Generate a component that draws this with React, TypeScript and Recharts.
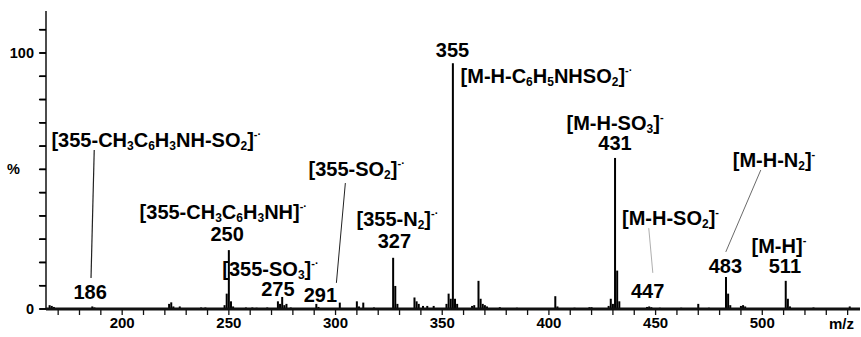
import { ComposedChart, Bar, XAxis, YAxis, Scatter, ReferenceLine } from "recharts"

document.body.style.margin = "0"

// peak list (m/z, relative intensity %)
const PEAK_MZ = [
  166, 167, 168, 186, 187, 222, 223, 224, 227, 237, 239, 248, 249, 250, 251, 252, 258, 261, 263, 268,
  273, 274, 275, 276, 277, 279, 291, 292, 302, 310, 311, 313, 318, 327, 328, 329, 337, 338, 339, 341,
  343, 346, 352, 353, 354, 355, 356, 357, 364, 365, 367, 368, 369, 370, 371, 377, 385, 403, 404, 412,
  419, 420, 428, 429, 430, 431, 432, 433, 446, 447, 448, 452, 462, 470, 475, 483, 484, 485, 490, 491,
  492, 511, 512, 513, 524, 541,
]
const PEAK_PCT = [
  1.5, 1.2, 0.8, 1.0, 0.6, 2.0, 2.6, 1.0, 1.0, 0.6, 0.6, 1.5, 6, 23, 3, 1.0, 0.6, 0.6, 0.5, 0.6,
  3, 2, 4.7, 1.5, 2, 0.6, 2, 0.8, 2.5, 3, 1, 2.5, 0.6, 20, 9, 2, 4.5, 3, 2, 1.2,
  1.2, 1.2, 2, 6, 4, 96, 4, 2, 1.2, 1.5, 11, 4, 2, 1.5, 1.0, 0.7, 0.5, 5, 1, 0.5,
  0.7, 0.7, 1.2, 4, 2, 59, 15, 3, 0.8, 1, 0.7, 0.5, 0.5, 2, 0.5, 12.5, 6, 1.5, 1.2, 1.5,
  1.0, 11, 4, 1.0, 0.6, 1.0,
]

// annotations: "_x" = subscript char, "^..." = superscript rest
const LABEL_TEXT = [
  "[355-CH_3C_6H_3NH-SO_2]^-·", "186",
  "[355-CH_3C_6H_3NH]^-·", "250",
  "[355-SO_3]^-·", "275",
  "[355-SO_2]^-·", "291",
  "[355-N_2]^-·", "327",
  "355", "[M-H-C_6H_5NHSO_2]^-·",
  "[M-H-SO_3]^-", "431",
  "[M-H-SO_2]^-", "447",
  "[M-H-N_2]^-", "483",
  "[M-H]^-", "511",
]
// where each annotation sits (m/z, %) and how it is anchored
const LABEL_MZ = [216, 185, 247.4, 249.2, 269.5, 273, 309.9, 292.9, 329, 327.6, 354.8, 358.6, 431, 431, 457, 446.3, 505.5, 482.7, 507.8, 510.6]
const LABEL_Y = [63.3, 3.9, 35.2, 26.4, 13, 4.9, 52, 2.9, 32.4, 24, 98.4, 88.3, 70, 62, 32.8, 4.3, 55.5, 14.1, 22, 14]
const LABEL_ANCHOR = LABEL_TEXT.map((t) => (t.startsWith("[M-H-C") ? "start" : "middle"))

// leader lines from the labels down to their peaks
const LEADERS = [
  { x1: 186.9, y1: 62.1, x2: 185.4, y2: 12.1, color: "#222", w: 1.2 },
  { x1: 304.6, y1: 49.2, x2: 300.4, y2: 10.2, color: "#222", w: 1 },
  { x1: 446.8, y1: 31.6, x2: 448.7, y2: 14.1, color: "#999", w: 0.8 },
  { x1: 499.3, y1: 54.3, x2: 482.9, y2: 22.3, color: "#444", w: 0.8 },
]

const X_DOMAIN: [number, number] = [164.3, 545.8]
const Y_MAX = 116.4
const X_TICKS = Array.from({ length: 38 }, (_, i) => 170 + i * 10)
const Y_TICKS = Array.from({ length: 13 }, (_, i) => (i * 100) / 11)
// y tick dash length, in m/z units (about 7px)
const Y_TICK_LEN = 3.3

const FONT = "'Liberation Sans', Arial, sans-serif"

const peaks = PEAK_MZ.map((mz, i) => ({ mz, pct: PEAK_PCT[i] }))
const labels = LABEL_TEXT.map((text, i) => ({ mz: LABEL_MZ[i], ly: LABEL_Y[i], text, anchor: LABEL_ANCHOR[i] }))

function parseFormula(s: string) {
  const parts: { t: string; kind: string }[] = []
  let buf = ""
  for (let i = 0; i < s.length; i++) {
    const c = s[i]
    if (c === "_") {
      if (buf) parts.push({ t: buf, kind: "norm" })
      buf = ""
      parts.push({ t: s[i + 1], kind: "sub" })
      i++
    } else if (c === "^") {
      if (buf) parts.push({ t: buf, kind: "norm" })
      buf = ""
      parts.push({ t: s.slice(i + 1), kind: "sup" })
      break
    } else {
      buf += c
    }
  }
  if (buf) parts.push({ t: buf, kind: "norm" })
  return parts
}

function Formula(props: any) {
  const { cx, cy, payload } = props
  const parts = parseFormula(payload.text)
  let shift = 0
  return (
    <text x={cx} y={cy} textAnchor={payload.anchor} fontFamily={FONT} fontWeight="bold" fontSize={20} fill="#000">
      {parts.map((p, i) => {
        const target = p.kind === "sub" ? 3 : p.kind === "sup" ? -9 : 0
        const dy = target - shift
        shift = target
        return (
          <tspan key={i} dy={dy} fontSize={p.kind === "norm" ? 20 : p.kind === "sub" ? 12 : 11}>
            {p.t}
          </tspan>
        )
      })}
    </text>
  )
}

// spectrum stick: a 2px black line centred on the m/z value
function Stick(props: any) {
  const { x, y, width, height } = props
  if (!(height > 0)) return null
  return <rect x={x + width / 2 - 1} y={y} width={2} height={height} fill="#000" />
}

function YTick(props: any) {
  const { x, y, payload } = props
  const k = Math.round((payload.value * 11) / 100)
  const label = k === 0 ? "0" : k === 11 ? "100" : k === 6 ? "%" : ""
  if (!label) return null
  return (
    <text x={label === "%" ? x - 14 : x} y={y} dy={5} textAnchor="end" fontFamily={FONT} fontWeight="bold" fontSize={14.5} fill="#000">
      {label}
    </text>
  )
}

export default function App() {
  return (
    <div style={{ width: 861, height: 337, background: "#fff" }}>
      <ComposedChart width={861} height={337} data={peaks} margin={{ top: 11, right: 1, bottom: 2, left: 6 }}>
        <XAxis
          dataKey="mz"
          type="number"
          domain={X_DOMAIN}
          ticks={X_TICKS}
          interval={0}
          height={26}
          tickSize={6}
          tickMargin={2}
          tickFormatter={(v: number) => (v % 50 === 0 ? String(v) : "")}
          tick={{ fontFamily: FONT, fontWeight: "bold", fontSize: 15, fill: "#000" }}
          tickLine={{ stroke: "#111", strokeWidth: 1.3 }}
          axisLine={{ stroke: "#111", strokeWidth: 3 }}
          label={{ value: "m/z", position: "insideBottomRight", offset: 6, fontFamily: FONT, fontWeight: "bold", fontSize: 15, fill: "#000" }}
        />
        <XAxis
          xAxisId="top"
          orientation="top"
          dataKey="mz"
          type="number"
          domain={X_DOMAIN}
          height={0}
          tick={false}
          tickLine={false}
          axisLine={{ stroke: "#111", strokeWidth: 3 }}
        />
        <YAxis
          type="number"
          domain={[0, Y_MAX]}
          ticks={Y_TICKS}
          interval={0}
          width={40}
          tickSize={6}
          tickMargin={6}
          tick={<YTick />}
          tickLine={{ stroke: "#000", strokeWidth: 1.5 }}
          axisLine={{ stroke: "#111", strokeWidth: 1.5 }}
        />
        <Bar dataKey="pct" barSize={2} fill="#000" shape={<Stick />} isAnimationActive={false} />
        {Y_TICKS.map((v, i) => (
          <ReferenceLine
            key={"yt" + i}
            ifOverflow="visible"
            segment={[
              { x: X_DOMAIN[0] - Y_TICK_LEN, y: v },
              { x: X_DOMAIN[0], y: v },
            ]}
            stroke="#000"
            strokeWidth={1.6}
          />
        ))}
        {LEADERS.map((l, i) => (
          <ReferenceLine
            key={i}
            segment={[
              { x: l.x1, y: l.y1 },
              { x: l.x2, y: l.y2 },
            ]}
            stroke={l.color}
            strokeWidth={l.w}
          />
        ))}
        <Scatter data={labels} dataKey="ly" shape={<Formula />} isAnimationActive={false} />
      </ComposedChart>
    </div>
  )
}
